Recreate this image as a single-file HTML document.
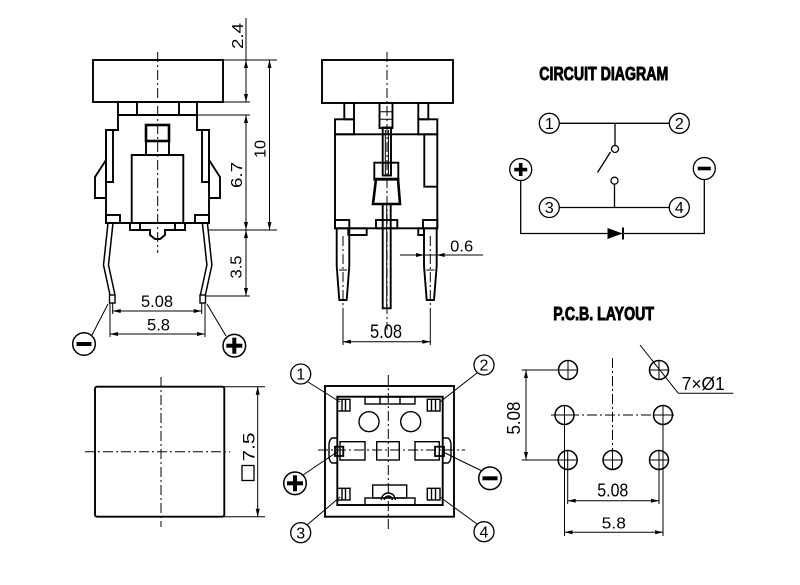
<!DOCTYPE html>
<html><head><meta charset="utf-8"><style>
html,body{margin:0;padding:0;background:#fff}
svg{display:block}
text{font-family:"Liberation Sans",sans-serif;fill:#000;stroke:none}
.ttl{stroke:#000;stroke-width:0.9}
</style></head><body>
<svg width="800" height="585" viewBox="0 0 800 585" xmlns="http://www.w3.org/2000/svg">
<defs>
<path id="ar" d="M0,0 L8,-2 L8,2 Z" fill="#000" stroke="none"/>
</defs>
<rect width="800" height="585" fill="#fff"/>

<!-- ============ TOP-LEFT VIEW ============ -->
<g fill="none" stroke="#000" stroke-width="1.9">
<rect x="93" y="60" width="130" height="42"/>
<rect x="118" y="102" width="79" height="13"/>
<path d="M137,102V115M179,102V115"/>
<path d="M118,115H197V130H209V223H106V130H118Z"/>
<rect x="106" y="130" width="7" height="52"/>
<rect x="202" y="130" width="7" height="52"/>
<path d="M106,160L95,177V198H106M209,160L220,177V198H209"/>
<rect x="146" y="125" width="23" height="16" stroke-width="2.6"/>
<rect x="146" y="141" width="23" height="14"/>
<path d="M131.7,223V155H183.3V223"/>
<rect x="130" y="223" width="10" height="7"/>
<rect x="175" y="223" width="10" height="7"/>
<path d="M140,230H150V235L155,239H160L165,235V230H175"/>
<rect x="106" y="215" width="14" height="8"/>
<rect x="195" y="215" width="14" height="8"/>
<path stroke-width="1.5" d="M108,223L103.5,265L110,295M113,223L108.5,265L115,295M207.4,223L211.9,265L205.4,295M202.4,223L206.9,265L200.4,295"/>
<rect x="109.5" y="295" width="5.5" height="8" stroke-width="1.4"/>
<rect x="200" y="295" width="5.5" height="8" stroke-width="1.4"/>
</g>
<g fill="none" stroke="#000" stroke-width="1">
<path d="M157.7,52V253" stroke-dasharray="10 3 2 3"/>
<path d="M246,18V102M246,115V296M269.5,60V230"/>
<path d="M223,60H277M223,102H250M197,115H250M208,230H277M205,296H250"/>
<path d="M112.7,311H201.7M110,334H205"/>
<path d="M112.7,303V314M201.7,303V314M110,303V337M205,303V337"/>
<path d="M108,304L92,335M207,304L226,336"/>
</g>
<use href="#ar" transform="translate(246,60) rotate(90)"/>
<use href="#ar" transform="translate(246,102) rotate(-90)"/>
<use href="#ar" transform="translate(269.5,60) rotate(90)"/>
<use href="#ar" transform="translate(269.5,230) rotate(-90)"/>
<use href="#ar" transform="translate(246,115) rotate(90)"/>
<use href="#ar" transform="translate(246,230) rotate(-90)"/>
<use href="#ar" transform="translate(246,230) rotate(90)"/>
<use href="#ar" transform="translate(246,296) rotate(-90)"/>
<use href="#ar" transform="translate(112.7,311)"/>
<use href="#ar" transform="translate(201.7,311) rotate(180)"/>
<use href="#ar" transform="translate(110,334)"/>
<use href="#ar" transform="translate(205,334) rotate(180)"/>
<text transform="translate(243,36) rotate(-90)" text-anchor="middle" font-size="16" textLength="26" lengthAdjust="spacingAndGlyphs">2.4</text>
<text transform="translate(265.5,149) rotate(-90)" text-anchor="middle" font-size="16" textLength="18" lengthAdjust="spacingAndGlyphs">10</text>
<text transform="translate(242,175) rotate(-90)" text-anchor="middle" font-size="16" textLength="26" lengthAdjust="spacingAndGlyphs">6.7</text>
<text transform="translate(241.5,267) rotate(-90)" text-anchor="middle" font-size="16" textLength="23" lengthAdjust="spacingAndGlyphs">3.5</text>
<text x="157" y="307" text-anchor="middle" font-size="17" textLength="32" lengthAdjust="spacingAndGlyphs">5.08</text>
<text x="158.5" y="330.5" text-anchor="middle" font-size="17" textLength="23" lengthAdjust="spacingAndGlyphs">5.8</text>
<circle cx="84" cy="344" r="11.3" fill="none" stroke="#000" stroke-width="1.5"/>
<rect x="76.5" y="342" width="15" height="4" fill="#000"/>
<circle cx="234.3" cy="345.7" r="11.3" fill="none" stroke="#000" stroke-width="1.5"/>
<rect x="226.3" y="343.7" width="16" height="4" fill="#000"/>
<rect x="232.3" y="337.7" width="4" height="16" fill="#000"/>

<!-- ============ TOP-MIDDLE VIEW ============ -->
<g fill="none" stroke="#000" stroke-width="1.9">
<rect x="322" y="60" width="131" height="43"/>
<rect x="344.3" y="103" width="9.7" height="16.3"/>
<rect x="418.3" y="103" width="10" height="16.3"/>
<rect x="379.5" y="103" width="13" height="25"/>
<rect x="335" y="119.3" width="19" height="15"/>
<rect x="418.3" y="119.3" width="19" height="15"/>
<rect x="335" y="134.3" width="102.3" height="94"/>
<path d="M424.3,134.3V186.7H437.3"/>
<rect x="382.7" y="127.5" width="8.3" height="48"/>
<rect x="374.3" y="162.7" width="24" height="17"/>
<path d="M376,179H398L400,204H373Z" stroke-width="2.6"/>
<path d="M382.7,204V308.3H390.7V204"/>
<rect x="376" y="220" width="21.3" height="8.3"/>
<rect x="348.3" y="228.3" width="18.4" height="6.7"/>
<rect x="418.3" y="228.3" width="5.7" height="6.7"/>
<rect x="335" y="220" width="14.3" height="8.3"/>
<rect x="423" y="220" width="14.3" height="8.3"/>
<path d="M336.7,228.3V266L339.3,300H346.7L349.3,266V228.3"/>
<path d="M424,228.3V266L426.7,300H434L436.7,266V228.3"/>
</g>
<g fill="none" stroke="#000" stroke-width="1">
<path d="M379.5,111.7H392.5M379.5,119.3H392.5M385.3,130V175M388.4,130V175M386.7,205V308"/>
<path d="M387,52V330" stroke-dasharray="10 3 2 3"/>
<path d="M343,236V313M430.3,236V313" stroke-dasharray="10 3 2 3"/>
<path d="M339,270H347M426.5,270H434.5"/>
<path d="M343,341.7H430.3M343,313V345M430.3,313V345"/>
<path d="M400,255H483"/>
</g>
<use href="#ar" transform="translate(343,341.7)"/>
<use href="#ar" transform="translate(430.3,341.7) rotate(180)"/>
<use href="#ar" transform="translate(424,255) rotate(180)"/>
<use href="#ar" transform="translate(436.7,255)"/>
<text x="386" y="338" text-anchor="middle" font-size="19" textLength="32" lengthAdjust="spacingAndGlyphs">5.08</text>
<text x="461.7" y="251.5" text-anchor="middle" font-size="16" textLength="23" lengthAdjust="spacingAndGlyphs">0.6</text>

<!-- ============ CIRCUIT DIAGRAM ============ -->
<text class="ttl" x="539.3" y="80" font-size="18" font-weight="bold" textLength="129" lengthAdjust="spacingAndGlyphs">CIRCUIT DIAGRAM</text>
<g fill="none" stroke="#000" stroke-width="1.3">
<circle cx="549.3" cy="123.3" r="10"/>
<circle cx="679.3" cy="123.3" r="10"/>
<circle cx="549.3" cy="207.5" r="10"/>
<circle cx="679.3" cy="207.5" r="10"/>
<circle cx="520.7" cy="169.5" r="11"/>
<circle cx="704.3" cy="168.5" r="11"/>
<path d="M559.3,123.3H669.3M615,123.3V145.5M614.5,184.2V207.5M559.3,207.5H669.3M520.7,180.5V233.5H704.3V179.5"/>
<circle cx="615" cy="149" r="3.5"/>
<circle cx="614.5" cy="180.7" r="3.5"/>
<path d="M610.5,152L597.5,172.5"/>
<path d="M623,227.5V239.5" stroke-width="2"/>
</g>
<path d="M607.5,228V239L622.5,233.5Z" fill="#000"/>
<rect x="514.2" y="167.8" width="13" height="3.6" fill="#000"/>
<rect x="518.9" y="163" width="3.6" height="13" fill="#000"/>
<rect x="697.8" y="166.7" width="13" height="3.6" fill="#000"/>
<g font-size="16" text-anchor="middle">
<text x="549.3" y="129">1</text>
<text x="679.3" y="129">2</text>
<text x="549.3" y="213.2">3</text>
<text x="679.3" y="213.2">4</text>
</g>

<!-- ============ BOTTOM-LEFT VIEW ============ -->
<g fill="none" stroke="#000" stroke-width="1.9">
<rect x="95" y="386.7" width="129.3" height="130" rx="2"/>
</g>
<g fill="none" stroke="#000" stroke-width="1">
<path d="M161,377V527M85,451.7H230" stroke-dasharray="10 3 2 3"/>
<path d="M224,386.7H265M224,516.7H265M257.7,386.7V516.7"/>
<rect x="242" y="465.5" width="12" height="15" stroke-width="1.3"/>
</g>
<use href="#ar" transform="translate(257.7,386.7) rotate(90)"/>
<use href="#ar" transform="translate(257.7,516.7) rotate(-90)"/>
<text transform="translate(254.5,447) rotate(-90)" text-anchor="middle" font-size="17" textLength="29" lengthAdjust="spacingAndGlyphs">7.5</text>

<!-- ============ BOTTOM-MIDDLE VIEW ============ -->
<g fill="none" stroke="#000" stroke-width="1.9">
<rect x="325" y="386" width="129" height="130.7"/>
<rect x="337.3" y="396.7" width="105.4" height="108.3"/>
</g>
<g fill="none" stroke="#000" stroke-width="1.4">
<rect x="365" y="397" width="50" height="7"/>
<path d="M380,397V404M400,397V404"/>
<circle cx="369" cy="421.7" r="10"/>
<circle cx="410.7" cy="421.7" r="10"/>
<rect x="340" y="441.7" width="25" height="18.3"/>
<rect x="376.7" y="441.7" width="22.6" height="18.3"/>
<rect x="415" y="441.7" width="24.3" height="18.3"/>
<path d="M337.3,438H332Q329,440 329,445V456Q329,461 332,463H337.3"/>
<path d="M442.7,438H448Q451,440 451,445V456Q451,461 448,463H442.7"/>
<rect x="335" y="446.7" width="8.3" height="9.3" stroke-width="1.8"/>
<rect x="435" y="446.7" width="9" height="9.3" stroke-width="1.8"/>
<rect x="337.3" y="399.3" width="12.7" height="11.7"/>
<rect x="427.3" y="399.3" width="12.7" height="11.7"/>
<rect x="337.3" y="488.3" width="12.7" height="11.7"/>
<rect x="427.3" y="488.3" width="12.7" height="11.7"/>
<path d="M342,399.3V411M345.5,399.3V411M431.5,399.3V411M435.5,399.3V411M342,488.3V500M345.5,488.3V500M431.5,488.3V500M435.5,488.3V500"/>
<rect x="372.7" y="485" width="34" height="13"/>
<rect x="365" y="498" width="50" height="7"/>
<path d="M381.3,500A7,7 0 0 1 395.3,500M384.3,500A4,4 0 0 1 392.3,500"/>
</g>
<g fill="none" stroke="#000" stroke-width="1">
<path d="M388.3,375V530M318,450H465" stroke-dasharray="10 3 2 3"/>
<path d="M308,382L340,402M477,373L440,402M303,475L337,452M482,471L443,452M307,525L340,497M477,524L440,497"/>
</g>
<g fill="none" stroke="#000" stroke-width="1.3">
<circle cx="300.7" cy="374" r="10"/>
<circle cx="484" cy="365" r="10"/>
<circle cx="300.7" cy="532.7" r="10"/>
<circle cx="484" cy="531.7" r="10"/>
<circle cx="295" cy="483.3" r="11.3" stroke-width="1.5"/>
<circle cx="490" cy="478.3" r="11.3" stroke-width="1.5"/>
</g>
<rect x="287" y="481.3" width="16" height="4" fill="#000"/>
<rect x="293" y="475.3" width="4" height="16" fill="#000"/>
<rect x="482.5" y="476.3" width="15" height="4" fill="#000"/>
<g font-size="16" text-anchor="middle">
<text x="300.7" y="379.7">1</text>
<text x="484" y="370.7">2</text>
<text x="300.7" y="538.4">3</text>
<text x="484" y="537.4">4</text>
</g>

<!-- ============ PCB LAYOUT ============ -->
<text class="ttl" x="553.3" y="320" font-size="18" font-weight="bold" textLength="100.7" lengthAdjust="spacingAndGlyphs">P.C.B. LAYOUT</text>
<g fill="none" stroke="#000" stroke-width="1.5">
<circle cx="568" cy="370" r="9.5"/>
<circle cx="659" cy="370" r="9.5"/>
<circle cx="564.5" cy="415" r="9.5"/>
<circle cx="663" cy="415" r="9.5"/>
<circle cx="567.7" cy="460" r="9.5"/>
<circle cx="612.5" cy="460" r="9.5"/>
<circle cx="659" cy="460" r="9.5"/>
</g>
<g fill="none" stroke="#000" stroke-width="1">
<path d="M558.5,370H577.5M568,360.5V379.5M649.5,370H668.5M659,360.5V379.5M555,415H574M564.5,405.5V424.5M653.5,415H672.5M663,405.5V424.5M558.2,460H577.2M567.7,450.5V469.5M603,460H622M612.5,450.5V469.5M649.5,460H668.5M659,450.5V469.5"/>
<path d="M612.5,358V450M551,415H677" stroke-dasharray="10 3 2 3"/>
<path d="M526,370V460M521.7,370H558M521.7,460H558"/>
<path d="M567.7,470V504M659,470V504M564.5,425V536M663,425V536"/>
<path d="M567.7,500.7H659M564.5,532.3H663"/>
<path d="M640,345L678.3,393.3H733.3"/>
</g>
<use href="#ar" transform="translate(526,370) rotate(90)"/>
<use href="#ar" transform="translate(526,460) rotate(-90)"/>
<use href="#ar" transform="translate(567.7,500.7)"/>
<use href="#ar" transform="translate(659,500.7) rotate(180)"/>
<use href="#ar" transform="translate(564.5,532.3)"/>
<use href="#ar" transform="translate(663,532.3) rotate(180)"/>
<text transform="translate(520,418) rotate(-90)" text-anchor="middle" font-size="18" textLength="33" lengthAdjust="spacingAndGlyphs">5.08</text>
<text x="612.8" y="496.7" text-anchor="middle" font-size="18" textLength="31" lengthAdjust="spacingAndGlyphs">5.08</text>
<text x="613.8" y="528.3" text-anchor="middle" font-size="16" textLength="24.3" lengthAdjust="spacingAndGlyphs">5.8</text>
<text x="681.7" y="390" font-size="18" textLength="43" lengthAdjust="spacingAndGlyphs">7×Ø1</text>
</svg>
</body></html>
